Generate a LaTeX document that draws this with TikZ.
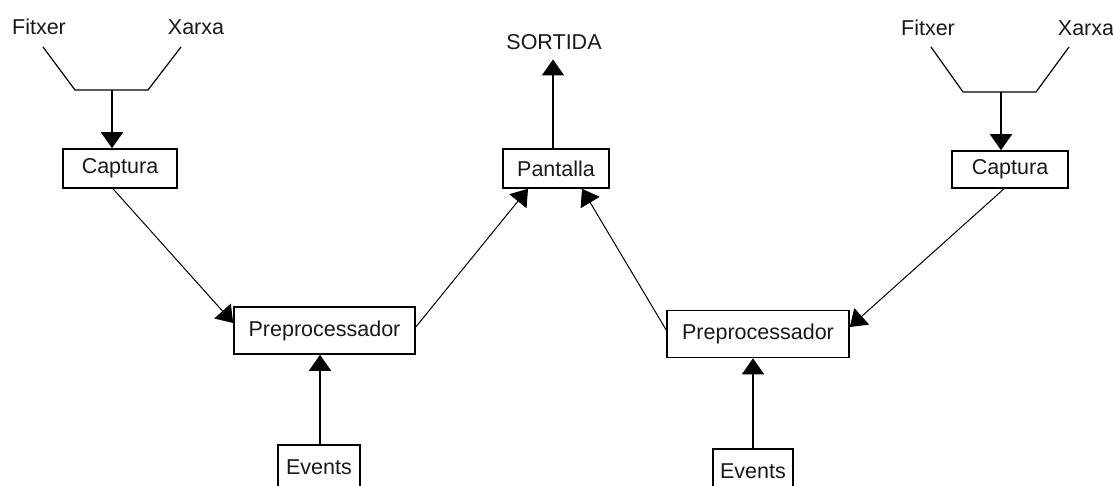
\documentclass[tikz,border=0pt]{standalone}
\usepackage{fontspec}
\setmainfont{Liberation Sans}
\usetikzlibrary{arrows.meta}
\begin{document}
\begin{tikzpicture}[x=1pt,y=-1pt,
  font=\fontsize{21.5}{24}\selectfont,
  blockbox/.style={draw, line width=1.6pt, inner sep=0pt, text=black!90},
  label/.style={inner sep=0pt, text=black!90},
  funnel/.style={line width=1.2pt, line join=miter},
  tip/.style={-{Triangle[width=22pt,length=16pt]}},
  straightarrow/.style={tip, line width=1.6pt},
  slantarrow/.style={tip, line width=1pt},
]
\useasboundingbox (0,0) rectangle (1113,486);
\clip (0,0) rectangle (1113,486);

% sources
\node[label] (fitL) at (39,27) {Fitxer};
\node[label] (xarL) at (196,27) {Xarxa};
\node[label] (fitR) at (928,28) {Fitxer};
\node[label] (xarR) at (1086,28) {Xarxa};
\node[label, anchor=base] (sort) at (554,50) {SORTIDA};

% processing blocks
\node[blockbox, minimum width=114pt, minimum height=39pt] (capL) at (120,168.5) {Captura};
\node[blockbox, minimum width=116pt, minimum height=37pt] (capR) at (1010,169.5) {Captura};
\node[blockbox, minimum width=106pt, minimum height=39pt] (pan)  at (556,168.5) {Pantalla};
\node[blockbox, minimum width=181pt, minimum height=47pt] (prepL) at (324.5,330.5) {Preprocessador};
\node[blockbox, minimum width=182pt, minimum height=47pt] (prepR) at (758,334) {Preprocessador};
\node[blockbox, minimum width=82pt, minimum height=44pt] (evL) at (319,467) {Events};
\node[blockbox, minimum width=80pt, minimum height=44pt] (evR) at (753,471) {Events};

% funnels merging the two inputs
\coordinate (jL) at (112,90);
\coordinate (jR) at (1001,92);
\draw[funnel] (43,47) -- (75,90) -- (148,90) -- (181,47);
\draw[funnel] (931,47) -- (963,92) -- (1036,92) -- (1069,47);

% connectors
\draw[straightarrow] (jL) -- (jL |- capL.north);
\draw[straightarrow] (jR) -- (jR |- capR.north);
\draw[slantarrow] ([xshift=-7pt]capL.south) -- ([yshift=7.5pt]prepL.west);
\draw[slantarrow] ([xshift=-6pt]capR.south) -- ([yshift=7pt]prepR.east);
\draw[slantarrow] ([yshift=3.5pt]prepL.east) -- ([xshift=-28pt]pan.south);
\draw[slantarrow] ([yshift=4pt]prepR.west) -- ([xshift=26pt]pan.south);
\draw[straightarrow] ([xshift=1pt]evL.north) -- ([xshift=1pt]evL.north |- prepL.south);
\draw[straightarrow] (evR.north) -- (evR.north |- prepR.south);
\draw[straightarrow, shorten >=9pt] ([xshift=-3pt]pan.north) -- ([xshift=-3pt]pan.north |- sort.south);
\end{tikzpicture}
\end{document}
